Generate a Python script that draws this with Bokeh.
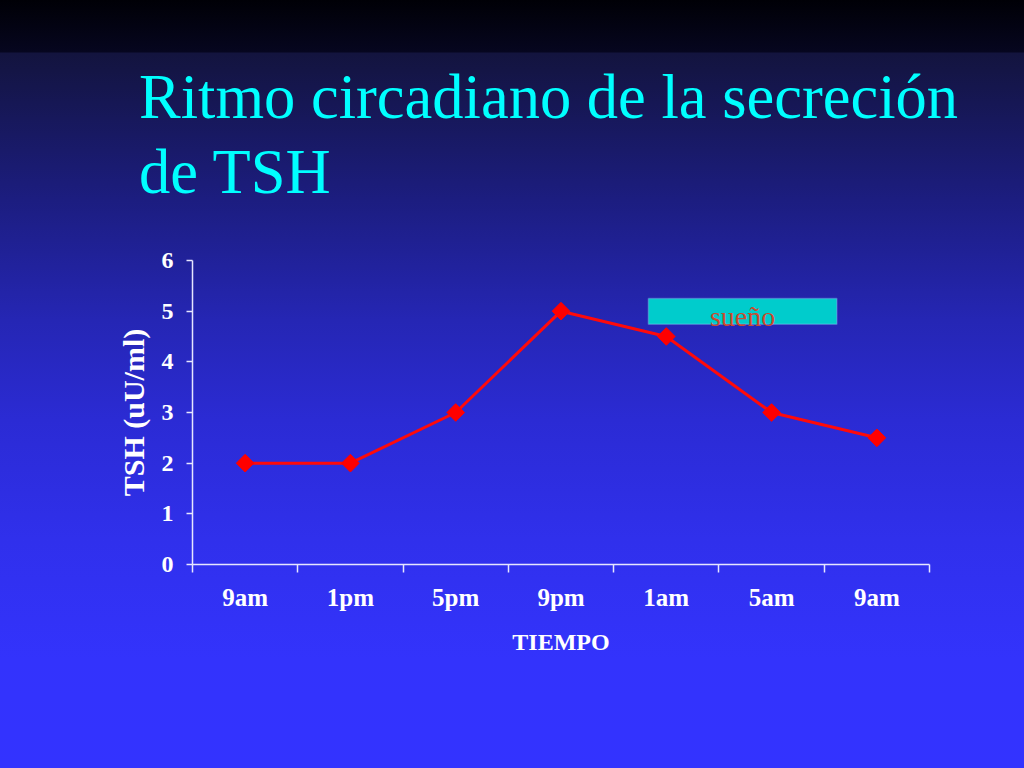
from bokeh.plotting import figure
from bokeh.layouts import column
from bokeh.models import (Range1d, FixedTicker, Label, BoxAnnotation, ColumnDataSource,
                          GlobalInlineStyleSheet, Div)
from bokeh.embed import file_html
from bokeh.resources import INLINE
import math

# ---- data ----
time_labels = ["9am", "1pm", "5pm", "9pm", "1am", "5am", "9am"]
tsh_values = [2, 2, 3, 5, 4.5, 3, 2.5]
y_ticks = [0, 1, 2, 3, 4, 5, 6]
title_lines = ["Ritmo circadiano de la secreción", "de TSH"]
sleep_label = "sueño"
# sleep box extent in data units (x: time slots, y: TSH)
sleep_x = (4.33, 6.12)
sleep_y = (4.74, 5.25)

SERIF = "Liberation Serif"

xs = [i + 0.5 for i in range(len(time_labels))]
src = ColumnDataSource(dict(x=xs, y=tsh_values))

title_div = Div(
    text="<br>".join(title_lines), width=1024, height=240, margin=0,
    styles={"font-family": "'Liberation Serif', serif", "font-size": "62.5px",
            "color": "#00ffff", "line-height": "75px", "padding-top": "60px",
            "padding-left": "139px", "white-space": "nowrap", "box-sizing": "border-box"})

p = figure(width=1024, height=528, output_backend="svg", toolbar_location=None,
           x_range=Range1d(0, len(time_labels)), y_range=Range1d(0, 6),
           min_border_left=192, min_border_right=95, min_border_top=20,
           min_border_bottom=204, margin=0)

p.stylesheets = [GlobalInlineStyleSheet(css="""
html { min-height: 100%; background: linear-gradient(to bottom,
  #000006 0px, #06061f 52px, #13143e 53px, #1c1d80 200px, #2526b4 320px,
  #2b2bd4 420px, #3030ec 540px, #3333fc 660px, #3333ff 768px) no-repeat;
  background-size: 100% 768px; background-color: #3333ff; }
body { background: transparent; }
""")]

p.background_fill_color = None
p.border_fill_color = None
p.outline_line_color = None
p.grid.visible = False

# sleep box
p.add_layout(BoxAnnotation(left=sleep_x[0], right=sleep_x[1], bottom=sleep_y[0], top=sleep_y[1],
                           fill_color="#00cccc", fill_alpha=1.0,
                           line_color="#b0c8ff", line_width=1.5, level="underlay"))
p.add_layout(Label(x=(sleep_x[0] + sleep_x[1]) / 2, y=4.9,
                   text=sleep_label, text_align="center", text_baseline="middle",
                   text_color="#cc4a2e", text_font=SERIF, text_font_size="28px"))

p.line("x", "y", source=src, line_color="#ff0a0a", line_width=3)
p.scatter("x", "y", source=src, marker="square", size=12.5, angle=math.pi / 4,
          fill_color="#ff0000", line_color="#ff0000")

axis_color = "#e6e6ff"

# y axis
ya = p.yaxis[0]
ya.ticker = FixedTicker(ticks=y_ticks)
ya.axis_line_color = axis_color
ya.axis_line_width = 1.5
ya.major_tick_line_color = axis_color
ya.major_tick_line_width = 1.5
ya.major_tick_out = 6
ya.major_tick_in = 0
ya.minor_tick_line_color = None
ya.major_label_text_color = "white"
ya.major_label_text_font = SERIF
ya.major_label_text_font_style = "bold"
ya.major_label_text_font_size = "24px"
ya.major_label_standoff = 13
ya.axis_label = "TSH (uU/ml)"
ya.axis_label_text_color = "white"
ya.axis_label_text_font = SERIF
ya.axis_label_text_font_style = "bold"
ya.axis_label_text_font_size = "30px"
ya.axis_label_standoff = 9

# x axis: ticks on slot boundaries, labels at slot centers
xa = p.xaxis[0]
xa.ticker = FixedTicker(ticks=xs, minor_ticks=list(range(len(time_labels) + 1)))
xa.major_label_overrides = {x: lab for x, lab in zip(xs, time_labels)}
xa.axis_line_color = axis_color
xa.axis_line_width = 1.5
xa.major_tick_line_color = None
xa.major_tick_out = 8
xa.minor_tick_line_color = axis_color
xa.minor_tick_line_width = 1.5
xa.minor_tick_out = 8
xa.minor_tick_in = 0
xa.major_label_text_color = "white"
xa.major_label_text_font = SERIF
xa.major_label_text_font_style = "bold"
xa.major_label_text_font_size = "25px"
xa.major_label_standoff = 11
xa.axis_label = "TIEMPO"
xa.axis_label_text_color = "white"
xa.axis_label_text_font = SERIF
xa.axis_label_text_font_style = "bold"
xa.axis_label_text_font_size = "24px"
xa.axis_label_standoff = 15

layout = column(title_div, p, spacing=0)

open("out.html", "w").write(file_html(layout, INLINE))
